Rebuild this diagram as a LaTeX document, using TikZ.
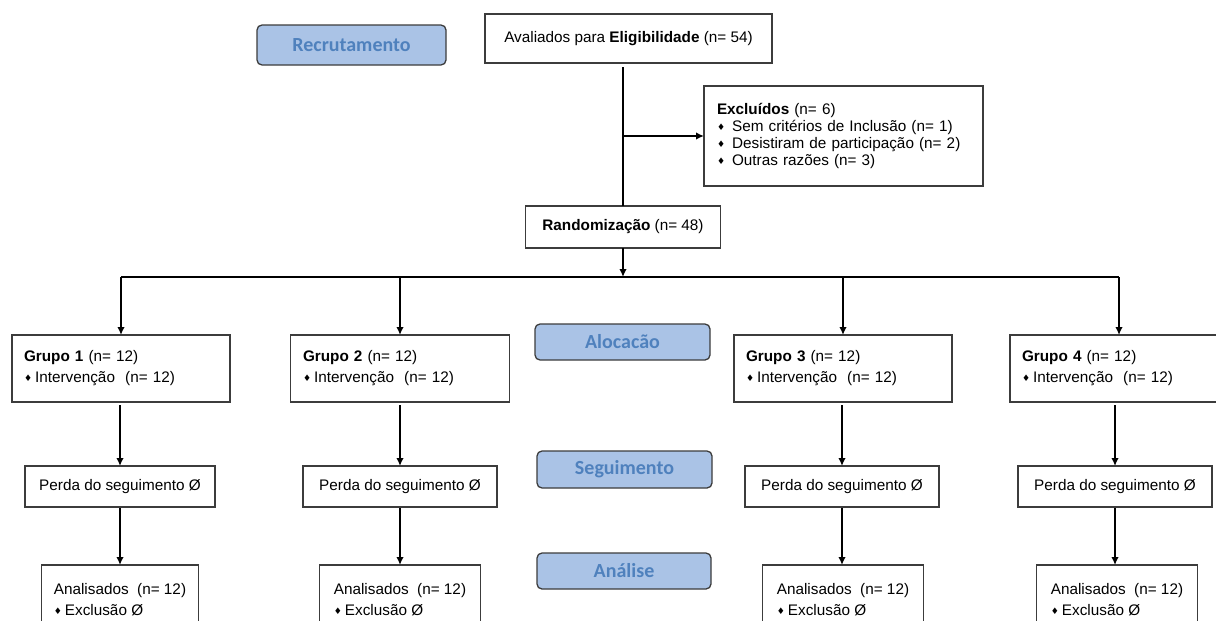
\documentclass[tikz,border=0pt]{standalone}
\usepackage{fontspec}
\setmainfont{Liberation Sans}
\newfontfamily\labelfont{Carlito}
\newfontfamily\symbfont{DejaVu Sans}
\usepackage{tikz}
\usetikzlibrary{positioning}
\usetikzlibrary{shapes,arrows.meta,calc}
\definecolor{boxblue}{RGB}{170,195,230}
\definecolor{textblue}{RGB}{79,129,189}
\definecolor{edgegray}{RGB}{60,60,60}
\tikzset{
    %Define standard arrow tip
    >={Latex[length=8pt,width=7.5pt]},
    % Define arrow style
    pil/.style={
           ->,
           color=black,
           line width=1.7pt,
           shorten <=3pt,}
}
\newcommand{\bul}{{\symbfont\fontsize{9}{9}\selectfont\raisebox{1pt}{♦}}}
\newcommand{\txtsize}{\fontsize{15.3}{21}\selectfont}

\begin{document}
\begin{tikzpicture}[x=1pt, y=-1pt, outer sep=0pt]
\tikzstyle{labelbox}=[draw=edgegray, fill=boxblue, rectangle, line width=1.3pt, rounded corners=5pt,
    text=textblue, font=\labelfont\bfseries\fontsize{20}{24}\selectfont, align=center, inner sep=0pt]
%
\tikzstyle{basicbox}=[draw=edgegray, fill=white, rectangle, line width=1.3pt,
    font=\txtsize, align=center, inner sep=0pt]
%
\tikzstyle{grupobox}=[basicbox, minimum width=218pt, minimum height=67pt, text width=194pt, align=left]
%
\tikzstyle{perdabox}=[basicbox, minimum width=194pt, minimum height=41pt]
%
\tikzstyle{analbox}=[basicbox, minimum width=161pt, minimum height=70pt, anchor=north, align=left]

\useasboundingbox (0,0) rectangle (1216,621);

\node[labelbox, minimum width=189pt, minimum height=40pt] (recr) at (351.5,45) {Recrutamento};
\node[labelbox, minimum width=175pt, minimum height=36pt] (aloc) at (622.5,342) {Alocacão};
\node[labelbox, minimum width=175pt, minimum height=37pt] (segu) at (624.5,469.5) {Seguimento};
\node[labelbox, minimum width=174pt, minimum height=36pt] (anal) at (624,571) {Análise};

\node[basicbox, minimum width=287pt, minimum height=49pt] (elig) at (628.5,38.5)
    {Avaliados para \textbf{Eligibilidade} (n= 54)};
\node[basicbox, minimum width=279pt, minimum height=100pt, text width=253pt, align=left,
    font=\fontsize{15.3}{16.7}\selectfont] (excl) at (843.5,136)
    {\textbf{Excluídos} (n= 6)\\
     \bul\hspace{7pt}Sem critérios de Inclusão (n= 1)\\
     \bul\hspace{7pt}Desistiram de participação (n= 2)\\
     \bul\hspace{7pt}Outras razões (n= 3)};
\node[basicbox, minimum width=195pt, minimum height=42pt] (rand) at (623,227)
    {\textbf{Randomização} (n= 48)};

\coordinate (split) at (623,277);

\node[grupobox] (g1) at (121,368.5) {\textbf{Grupo 1} (n= 12)\\\bul\hspace{3pt}Intervenção~~(n= 12)};
\node[grupobox, minimum width=219pt] (g2) at (400,368.5) {\textbf{Grupo 2} (n= 12)\\\bul\hspace{3pt}Intervenção~~(n= 12)};
\node[grupobox] (g3) at (843,368.5) {\textbf{Grupo 3} (n= 12)\\\bul\hspace{3pt}Intervenção~~(n= 12)};
\node[grupobox] (g4) at (1119,368.5) {\textbf{Grupo 4} (n= 12)\\\bul\hspace{3pt}Intervenção~~(n= 12)};

\node[perdabox, minimum width=190pt] (p1) at (120,486.5) {Perda do seguimento Ø};
\node[perdabox] (p2) at (400,486.5) {Perda do seguimento Ø};
\node[perdabox] (p3) at (842,486.5) {Perda do seguimento Ø};
\node[perdabox] (p4) at (1115,486.5) {Perda do seguimento Ø};

\node[analbox, minimum width=157pt] (a1) at (120,565) {Analisados~~(n= 12)\\\bul\hspace{3pt}Exclusão Ø};
\node[analbox] (a2) at (400,565) {Analisados~~(n= 12)\\\bul\hspace{3pt}Exclusão Ø};
\node[analbox] (a3) at (843,565) {Analisados~~(n= 12)\\\bul\hspace{3pt}Exclusão Ø};
\node[analbox] (a4) at (1117,565) {Analisados~~(n= 12)\\\bul\hspace{3pt}Exclusão Ø};

% recrutamento
\draw[line width=1.7pt, shorten <=4pt] (elig.south -| rand.north) -- (rand.north);
\path[pil, shorten <=0pt] (excl.west -| rand.north) edge (excl.west);
\path[pil, shorten <=0pt] (rand.south) edge (split);

% alocacao
\draw[line width=1.7pt] (split -| g1.north) -- (split -| g4.north);
\foreach \g in {g1,g2,g3,g4}
    \path[pil, shorten <=0pt] (split -| \g.north) edge (\g.north);

% seguimento e analise
\foreach \g/\p/\a in {g1/p1/a1,g2/p2/a2,g3/p3/a3,g4/p4/a4}{
    \path[pil] (\p.north |- \g.south) edge (\p.north);
    \path[pil, shorten <=1pt] (\p.south) edge (\p.south |- \a.north);
}

\end{tikzpicture}
\end{document}
